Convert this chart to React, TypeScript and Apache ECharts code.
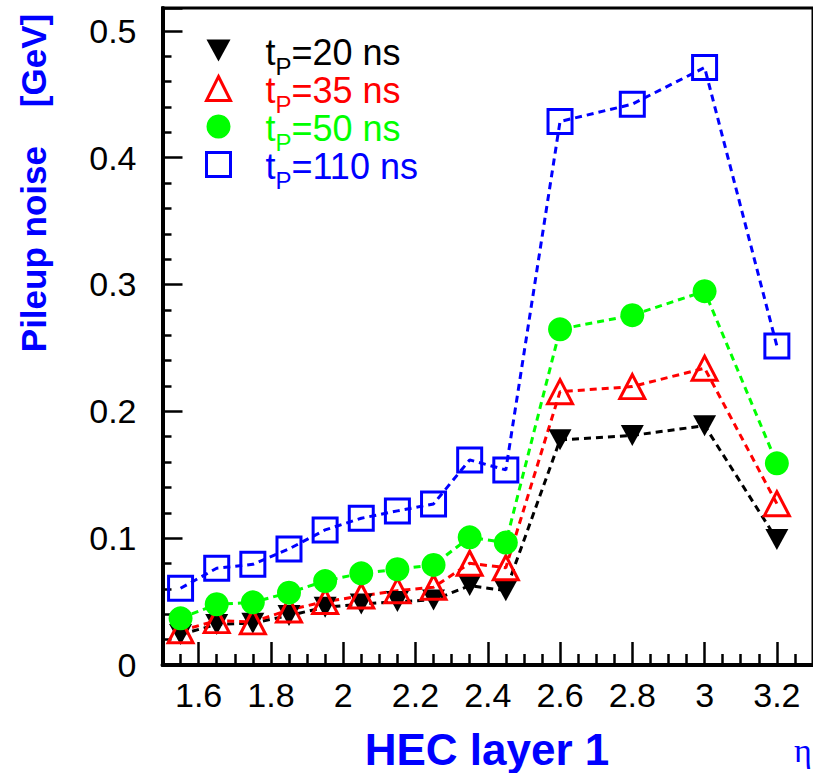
import React, { useEffect, useRef } from "react";
import * as echarts from "echarts";

// eta bin centres (x) and pileup noise [GeV] (y) for each shaping time
const etaBins = [1.55, 1.65, 1.75, 1.85, 1.95, 2.05, 2.15, 2.25, 2.35, 2.45, 2.6, 2.8, 3.0, 3.2];
const noise20 = [0.024, 0.032, 0.033, 0.039, 0.0455, 0.048, 0.05, 0.0513, 0.0626, 0.0586, 0.1775, 0.181, 0.1887, 0.099];
const noise35 = [0.027, 0.035, 0.034, 0.0434, 0.05, 0.0544, 0.0586, 0.0613, 0.0802, 0.0767, 0.2155, 0.2195, 0.234, 0.1272];
const noise50 = [0.0368, 0.0479, 0.0494, 0.057, 0.0662, 0.0723, 0.0755, 0.0789, 0.1007, 0.0965, 0.2647, 0.2758, 0.2947, 0.159];
const noise110 = [0.0605, 0.0763, 0.0794, 0.0915, 0.1065, 0.1157, 0.1215, 0.127, 0.1617, 0.1538, 0.4285, 0.4422, 0.4711, 0.2516];

const seriesNames = ["tP=20 ns", "tP=35 ns", "tP=50 ns", "tP=110 ns"];
const seriesColors = ["#000000", "#ff0000", "#00ff00", "#0000ff"];
const xTickValues = [1.6, 1.8, 2.0, 2.2, 2.4, 2.6, 2.8, 3.0, 3.2];
const yTickValues = [0, 0.1, 0.2, 0.3, 0.4, 0.5];

const FONT = "'Liberation Sans', Arial, Helvetica, sans-serif";

export default function App() {
  const ref = useRef<HTMLDivElement | null>(null);

  useEffect(() => {
    if (!ref.current) return;
    const chart = echarts.init(ref.current, undefined, { renderer: "svg" });

    const values = [noise20, noise35, noise50, noise110];
    const symbols = ["triangle", "triangle", "circle", "rect"];
    const symbolSizes: any[] = [[23, 21], [25, 24], 24, 24];
    const rotates = [180, 0, 0, 0];
    const itemStyles = [
      { color: "#000000", borderWidth: 0 },
      { color: "rgba(0,0,0,0)", borderColor: "#ff0000", borderWidth: 3 },
      { color: "#00ff00", borderWidth: 0 },
      { color: "rgba(0,0,0,0)", borderColor: "#0000ff", borderWidth: 3 },
    ];
    const legendIcons = ["path://M0,0L23,0L11.5,21Z", "triangle", "circle", "rect"];

    const series = seriesNames.map((name, i) => ({
      name,
      type: "line",
      data: etaBins.map((x, k) => [x, values[i][k]]),
      symbol: symbols[i],
      symbolSize: symbolSizes[i],
      symbolRotate: rotates[i],
      showAllSymbol: true,
      itemStyle: itemStyles[i],
      lineStyle: { color: seriesColors[i], width: 3, type: [7, 5] },
      emphasis: { disabled: true },
      silent: true,
      clip: false,
    }));

    const rich: any = {};
    seriesColors.forEach((c, i) => {
      rich["t" + i] = { color: c, fontSize: 36, fontFamily: FONT, lineHeight: 30, padding: [14, 0, 10, 30] };
      rich["s" + i] = { color: c, fontSize: 24, fontFamily: FONT, lineHeight: 23, padding: [31, 0, 0, 0] };
      rich["r" + i] = { color: c, fontSize: 36, fontFamily: FONT, lineHeight: 30, padding: [14, 0, 10, 0] };
    });

    const near = (v: number, list: number[]) => list.some((t) => Math.abs(t - v) < 1e-6);

    const option: any = {
      animation: false,
      backgroundColor: "#ffffff",
      grid: {
        left: 162.5,
        right: -6.5,
        top: 8,
        bottom: 108,
        show: true,
        borderColor: "#000000",
        borderWidth: 3,
        backgroundColor: "rgba(0,0,0,0)",
        containLabel: false,
      },
      xAxis: {
        type: "value",
        min: 1.5,
        max: 3.3,
        splitNumber: 9,
        axisLine: { show: true, onZero: false, lineStyle: { color: "#000", width: 4 } },
        axisTick: { show: true, inside: true, length: 23, lineStyle: { color: "#000", width: 2.5 } },
        minorTick: { show: true, splitNumber: 4, length: 11, lineStyle: { color: "#000", width: 2.5 } },
        splitLine: { show: false },
        minorSplitLine: { show: false },
        axisLabel: {
          margin: 13,
          fontSize: 34,
          fontFamily: FONT,
          color: "#000",
          showMinLabel: false,
          showMaxLabel: false,
          hideOverlap: false,
          formatter: (v: number) => (near(v, xTickValues) ? String(Math.round(v * 10) / 10) : ""),
        },
      },
      yAxis: {
        type: "value",
        min: 0,
        max: 0.518,
        interval: 0.1,
        axisLine: { show: true, onZero: false, lineStyle: { color: "#000", width: 4 } },
        axisTick: { show: true, inside: true, length: 20, lineStyle: { color: "#000", width: 2.5 } },
        minorTick: { show: true, splitNumber: 5, length: 9, lineStyle: { color: "#000", width: 2.5 } },
        splitLine: { show: false },
        minorSplitLine: { show: false },
        axisLabel: {
          margin: 26,
          fontSize: 34,
          fontFamily: FONT,
          color: "#000",
          padding: [7, 0, 0, 0],
          showMaxLabel: false,
          hideOverlap: false,
          formatter: (v: number) => (near(v, yTickValues) ? String(Math.round(v * 10) / 10) : ""),
        },
      },
      legend: {
        show: true,
        orient: "vertical",
        left: 205,
        top: 20.5,
        padding: 0,
        itemGap: -22,
        itemWidth: 24,
        itemHeight: 24,
        selectedMode: false,
        data: seriesNames.map((n, i) => ({ name: n, icon: legendIcons[i], itemStyle: itemStyles[i] })),
        formatter: (name: string) => {
          const i = seriesNames.indexOf(name);
          return `{t${i}|t}{s${i}|P}{r${i}|${name.slice(2)}}`;
        },
        textStyle: { fontSize: 36, fontFamily: FONT, rich },
      },
      graphic: [
        {
          type: "text",
          x: 33,
          y: 183,
          rotation: Math.PI / 2,
          silent: true,
          style: {
            text: "Pileup noise    [GeV]",
            fill: "#0000ff",
            fontSize: 35,
            fontWeight: "bold",
            fontFamily: FONT,
            align: "center",
            verticalAlign: "middle",
          },
        },
        {
          type: "text",
          x: 487,
          y: 749,
          silent: true,
          style: {
            text: "HEC layer 1",
            fill: "#0000ff",
            fontSize: 44,
            fontWeight: "bold",
            fontFamily: FONT,
            align: "center",
            verticalAlign: "middle",
          },
        },
        {
          type: "text",
          x: 794,
          y: 750,
          silent: true,
          style: {
            text: "η",
            fill: "#0000ff",
            fontSize: 34,
            fontFamily: "'Liberation Serif', 'DejaVu Serif', serif",
            align: "left",
            verticalAlign: "middle",
          },
        },
      ],
      series,
    };

    chart.setOption(option);
    return () => {
      chart.dispose();
    };
  }, []);

  return (
    <div
      ref={ref}
      style={{ position: "fixed", left: 0, top: 0, width: 813, height: 773, background: "#fff" }}
    />
  );
}
